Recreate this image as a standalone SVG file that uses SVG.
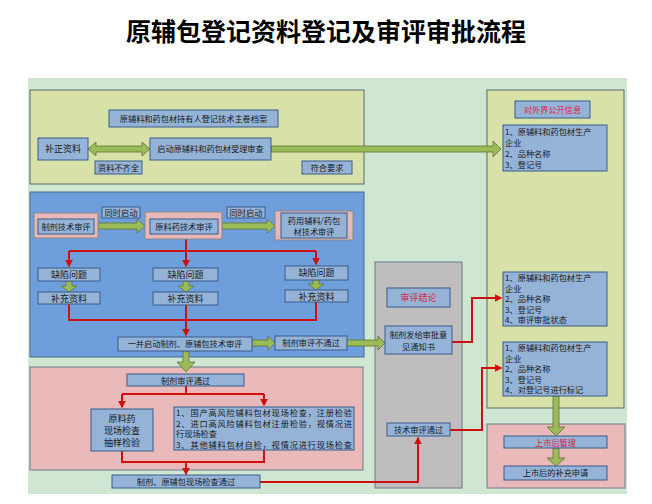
<svg xmlns="http://www.w3.org/2000/svg" width="652" height="504" viewBox="0 0 652 504">
<defs>
<style>
.b{fill:#95b3d7;stroke:#385d8a;stroke-width:1}
.pk{fill:#e6b8b7;stroke:#8a8a8a;stroke-width:1}
.t{font-family:"Noto Sans CJK SC",sans-serif;font-size:9px;fill:#1a1a1a}
.s{font-size:8.2px}
.m{text-anchor:middle}
.r{fill:#e0203a}
.ga{fill:#9bbb59;stroke:#5f7530;stroke-width:0.8}
.rl{fill:none;stroke:#d01010;stroke-width:2}
</style>
<marker id="ah" viewBox="0 0 10 10" refX="8" refY="5" markerWidth="4" markerHeight="4" orient="auto"><path d="M0,0L10,5L0,10z" fill="#d01010"/></marker>
</defs>
<rect width="652" height="504" fill="#fff"/>
<text x="326" y="41" text-anchor="middle" font-family="Noto Sans CJK SC,sans-serif" font-weight="bold" font-size="25" fill="#000">原辅包登记资料登记及审评审批流程</text>
<rect x="28" y="78" width="599" height="416" fill="#cfe6d3"/>
<g id="panels">
<rect x="30" y="90" width="334" height="94" fill="#d7e1a8" stroke="#5a6b6b"/>
<rect x="30" y="192" width="334" height="165" fill="#6e9fdc" stroke="#4a6a8a"/>
<rect x="30" y="367" width="333" height="103" fill="#eab9b9" stroke="#6a7a8a"/>
<rect x="375" y="262" width="87" height="226" fill="#bfbdbd" stroke="#6a7a8a"/>
<rect x="487" y="90" width="137" height="318" fill="#d7e1a8" stroke="#5a6b6b"/>
<rect x="487" y="424" width="138" height="64" fill="#eab9b9" stroke="#6a7a8a"/>
</g>
<g id="connectors">
<polygon class="ga" points="88,149 96,142 96,146 142,146 142,142 150,149 142,156 142,152 96,152 96,156"/>
<polygon class="ga" points="271,146 493,146 493,141 501,149 493,157 493,152 271,152"/>
<polygon class="ga" points="98,223 137,223 137,219 145,226 137,233 137,229 98,229"/>
<polygon class="ga" points="222,223 267,223 267,219 275,226 267,233 267,229 222,229"/>
<polygon class="ga" points="66,281 72,281 72,286 77,286 69,292 61,286 66,286"/>
<polygon class="ga" points="183,281 189,281 189,286 194,286 186,292 178,286 183,286"/>
<polygon class="ga" points="313,280 319,280 319,284 324,284 316,290 308,284 313,284"/>
<polygon class="ga" points="252,340 268,340 268,336 275,343 268,350 268,346 252,346"/>
<polygon class="ga" points="347,340 378,340 378,336 385,343 378,350 378,346 347,346"/>
<polygon class="ga" points="183,351 189,351 189,362 195,362 186,372 177,362 183,362"/>
<polygon class="ga" points="553,396 559,396 559,427 565,427 556,436 547,427 553,427"/>
<polygon class="ga" points="553,448 559,448 559,458 565,458 556,466 547,458 553,458"/>
<path class="rl" d="M186,239V251M69,251H316"/>
<path class="rl" d="M69,251V266" marker-end="url(#ah)"/>
<path class="rl" d="M186,251V266" marker-end="url(#ah)"/>
<path class="rl" d="M316,251V264" marker-end="url(#ah)"/>
<path class="rl" d="M69,304V320H316V302"/>
<path class="rl" d="M186,305V335" marker-end="url(#ah)"/>
<path class="rl" d="M186,386V394M122,394H264"/>
<path class="rl" d="M122,394V407" marker-end="url(#ah)"/>
<path class="rl" d="M264,394V405" marker-end="url(#ah)"/>
<path class="rl" d="M122,451V462H264V450"/>
<path class="rl" d="M186,462V474" marker-end="url(#ah)"/>
<path class="rl" d="M260,482H418V438" marker-end="url(#ah)"/>
<path class="rl" d="M452,342H472V298H501" marker-end="url(#ah)"/>
<path class="rl" d="M450,430H482V368H501" marker-end="url(#ah)"/>
</g>
<g id="n1"><rect class="b" x="109" y="110" width="169" height="17"/><text class="t s m" x="193.5" y="122">原辅料和药包材持有人登记技术主卷档案</text></g>
<g id="n2"><rect class="b" x="38" y="138" width="50" height="22"/><text class="t m" x="63" y="152">补正资料</text></g>
<g id="n3"><rect class="b" x="150" y="138" width="121" height="22"/><text class="t s m" x="210.5" y="152">启动原辅料和药包材受理审查</text></g>
<g id="n4"><rect class="b" x="95" y="161" width="47" height="13"/><text class="t s m" x="118.5" y="171">资料不齐全</text></g>
<g id="n5"><rect class="b" x="302" y="161" width="50" height="13"/><text class="t s m" x="327" y="171">符合要求</text></g>
<g id="n6"><rect class="pk" x="34" y="213" width="64" height="25"/><rect class="b" x="38" y="219" width="56" height="15"/><text class="t s m" x="66" y="230">制剂技术审评</text></g>
<g id="n7"><rect class="b" x="102" y="207" width="38" height="11"/><text class="t s m" x="121" y="216">同时启动</text></g>
<g id="n8"><rect class="pk" x="145" y="212" width="77" height="27"/><rect class="b" x="150" y="219" width="68" height="15"/><text class="t s m" x="184" y="230">原料药技术审评</text></g>
<g id="n9"><rect class="b" x="227" y="207" width="38" height="11"/><text class="t s m" x="246" y="216">同时启动</text></g>
<g id="n10"><rect class="pk" x="275" y="211" width="78" height="29"/><rect class="b" x="281" y="213" width="66" height="25"/><text class="t s m" x="314" y="224">药用辅料/药包</text><text class="t s m" x="314" y="235">材技术审评</text></g>
<g id="n11"><rect class="b" x="38" y="268" width="62" height="13"/><text class="t m" x="69" y="278">缺陷问题</text></g>
<g id="n12"><rect class="b" x="153" y="268" width="65" height="13"/><text class="t m" x="185.5" y="278">缺陷问题</text></g>
<g id="n13"><rect class="b" x="285" y="266" width="63" height="14"/><text class="t m" x="316.5" y="276">缺陷问题</text></g>
<g id="n14"><rect class="b" x="38" y="292" width="62" height="12"/><text class="t m" x="69" y="302">补充资料</text></g>
<g id="n15"><rect class="b" x="153" y="292" width="65" height="13"/><text class="t m" x="185.5" y="302">补充资料</text></g>
<g id="n16"><rect class="b" x="285" y="290" width="63" height="12"/><text class="t m" x="316.5" y="300">补充资料</text></g>
<g id="n17"><rect class="b" x="118" y="337" width="134" height="14"/><text class="t s m" x="185" y="347">一并启动制剂、原辅包技术审评</text></g>
<g id="n18"><rect class="b" x="275" y="336" width="72" height="14"/><text class="t s m" x="311" y="346">制剂审评不通过</text></g>
<g id="n19"><rect class="b" x="127" y="374" width="117" height="12"/><text class="t s m" x="185.5" y="383.5">制剂审评通过</text></g>
<g id="n20"><rect class="b" x="91" y="409" width="62" height="42"/><text class="t m" x="122" y="422">原料药</text><text class="t m" x="122" y="434">现场检查</text><text class="t m" x="122" y="446">抽样检验</text></g>
<g id="n21"><rect class="b" x="174" y="407" width="180" height="43"/><text class="t s" x="176" y="416" textLength="176">1、国产高风险辅料包材现场检查，注册检验</text><text class="t s" x="176" y="426.5" textLength="176">2、进口高风险辅料包材注册检验，视情况进</text><text class="t s" x="176" y="437">行现场检查</text><text class="t s" x="176" y="447.5" textLength="176">3、其他辅料包材自检，视情况进行现场检查</text></g>
<g id="n22"><rect class="b" x="112" y="475" width="148" height="13"/><text class="t s m" x="186" y="485">制剂、原辅包现场检查通过</text></g>
<g id="n23"><rect class="b" x="387" y="288" width="63" height="19"/><text class="t m r" x="418.5" y="301">审评结论</text></g>
<g id="n24"><rect class="b" x="385" y="326" width="67" height="28"/><text class="t s m" x="418.5" y="338">制剂发给审批意</text><text class="t s m" x="418.5" y="350">见通知书</text></g>
<g id="n25"><rect class="b" x="387" y="423" width="63" height="13"/><text class="t s m" x="418.5" y="433">技术审评通过</text></g>
<g id="n26"><rect class="b" x="515" y="101" width="75" height="17"/><text class="t s m r" x="552.5" y="113">对外界公开信息</text></g>
<g id="n27"><rect class="b" x="503" y="125" width="104" height="46"/><text class="t s" x="505" y="135">1、原辅料和药包材生产</text><text class="t s" x="505" y="146">企业</text><text class="t s" x="505" y="157">2、品种名称</text><text class="t s" x="505" y="168">3、登记号</text></g>
<g id="n28"><rect class="b" x="503" y="272" width="104" height="54"/><text class="t s" x="505" y="281">1、原辅料和药包材生产</text><text class="t s" x="505" y="291.5">企业</text><text class="t s" x="505" y="302">2、品种名称</text><text class="t s" x="505" y="312.5">3、登记号</text><text class="t s" x="505" y="323">4、审评审批状态</text></g>
<g id="n29"><rect class="b" x="503" y="342" width="104" height="54"/><text class="t s" x="505" y="351">1、原辅料和药包材生产</text><text class="t s" x="505" y="361.5">企业</text><text class="t s" x="505" y="372">2、品种名称</text><text class="t s" x="505" y="382.5">3、登记号</text><text class="t s" x="505" y="393">4、对登记号进行标记</text></g>
<g id="n30"><rect class="b" x="504" y="436" width="103" height="12"/><text class="t s m r" x="555.5" y="445.5">上市后管理</text></g>
<g id="n31"><rect class="b" x="504" y="466" width="103" height="14"/><text class="t s m" x="555.5" y="476">上市后的补充申请</text></g>
</svg>
